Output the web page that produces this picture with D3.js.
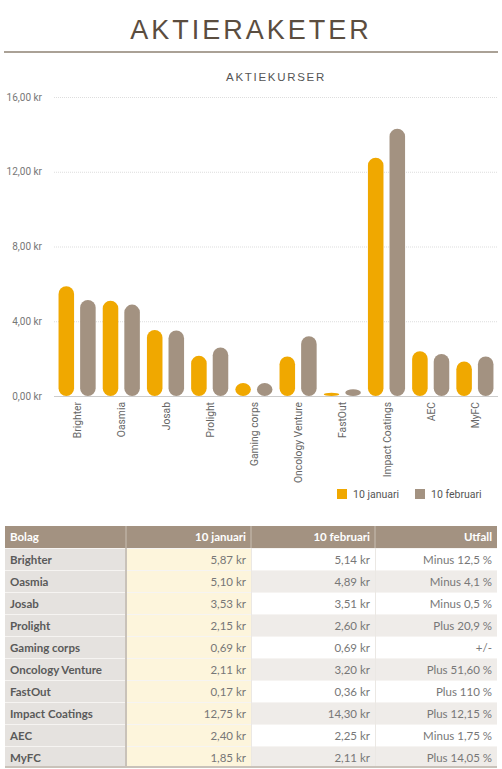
<!DOCTYPE html>
<html>
<head>
<meta charset="utf-8">
<script src="https://cdn.jsdelivr.net/npm/d3@7"></script>
<style>
  html, body { margin: 0; padding: 0; background: #fff; }
  svg { display: block; }
</style>
</head>
<body>
<div id="chart"></div>
<script>
// Data
const companies = ["Brighter", "Oasmia", "Josab", "Prolight", "Gaming corps", "Oncology Venture", "FastOut", "Impact Coatings", "AEC", "MyFC"];
const jan = [5.87, 5.10, 3.53, 2.15, 0.69, 2.11, 0.17, 12.75, 2.40, 1.85];
const feb = [5.14, 4.89, 3.51, 2.60, 0.69, 3.20, 0.36, 14.30, 2.25, 2.11];
const utfall = ["Minus 12,5 %", "Minus 4,1 %", "Minus 0,5 %", "Plus 20,9 %", "+/-", "Plus 51,60 %", "Plus 110 %", "Plus 12,15 %", "Minus 1,75 %", "Plus 14,05 %"];
const seriesNames = ["10 januari", "10 februari"];
const yTicks = [0, 4, 8, 12, 16];
const tableHeaders = ["Bolag", "10 januari", "10 februari", "Utfall"];

const W = 502, H = 769;
const colors = ["#f0a800", "#a39281"];

const sv = d3.formatLocale({ decimal: ",", thousands: " ", grouping: [3], currency: ["", " kr"] });
const kr = v => sv.format(".2f")(v) + " kr";

const svg = d3.select("#chart").append("svg")
    .attr("width", W)
    .attr("height", H);

// Title
svg.append("text")
    .attr("x", W / 2)
    .attr("y", 39)
    .attr("text-anchor", "middle")
    .attr("font-family", "Liberation Sans, Arial, sans-serif")
    .attr("font-size", 27)
    .attr("letter-spacing", 3)
    .attr("fill", "#5b4d3f")
    .text("AKTIERAKETER");

svg.append("line")
    .attr("x1", 4).attr("x2", 498)
    .attr("y1", 52).attr("y2", 52)
    .attr("stroke", "#aaa196")
    .attr("stroke-width", 2);

svg.append("text")
    .attr("x", 276)
    .attr("y", 81)
    .attr("text-anchor", "middle")
    .attr("font-family", "Liberation Sans, Arial, sans-serif")
    .attr("font-size", 11.5)
    .attr("letter-spacing", 1.7)
    .attr("fill", "#555")
    .text("AKTIEKURSER");

// Scales
const y = d3.scaleLinear().domain([0, 16]).range([396, 97]);
const x0 = d3.scaleBand().domain(companies).range([55, 497]).paddingInner(0.16).paddingOuter(0.08);
const x1 = d3.scaleBand().domain([0, 1]).range([0, x0.bandwidth()]).paddingInner(0.28);

// Grid
const grid = svg.append("g")
    .attr("transform", "translate(54,0)")
    .call(d3.axisLeft(y).tickValues(yTicks).tickSize(-444).tickFormat(""));
grid.select(".domain").remove();
grid.selectAll(".tick line")
    .attr("stroke", d => d === 0 ? "#ccc" : "#ddd")
    .attr("stroke-dasharray", d => d === 0 ? null : "1,1");

// Y labels
const yAxis = svg.append("g")
    .attr("transform", "translate(42,0)")
    .call(d3.axisLeft(y).tickValues(yTicks).tickSize(0).tickPadding(0).tickFormat(kr));
yAxis.select(".domain").remove();
yAxis.selectAll("text")
    .attr("font-family", "Roboto, Arial, sans-serif")
    .attr("font-size", 10)
    .attr("fill", "#777");

// Bars
const groups = svg.append("g")
    .selectAll("g")
    .data(companies)
    .join("g")
    .attr("transform", d => `translate(${x0(d)},0)`);

groups.selectAll("rect")
    .data((d, i) => [jan[i], feb[i]])
    .join("rect")
    .attr("x", (d, j) => x1(j))
    .attr("y", d => y(d))
    .attr("width", x1.bandwidth())
    .attr("height", d => y(0) - y(d))
    .attr("rx", x1.bandwidth() / 2)
    .attr("fill", (d, j) => colors[j]);

// X labels
const xAxis = svg.append("g")
    .attr("transform", "translate(0,396)")
    .call(d3.axisBottom(x0).tickSize(0).tickPadding(0));
xAxis.select(".domain").remove();
xAxis.selectAll("text")
    .attr("transform", "translate(4,6) rotate(-90)")
    .attr("text-anchor", "end")
    .attr("dy", 0)
    .attr("x", 0).attr("y", 0)
    .attr("font-family", "Roboto, Arial, sans-serif")
    .attr("font-size", 10.3)
    .attr("fill", "#666");

// Legend
const legend = svg.append("g")
    .selectAll("g")
    .data(seriesNames)
    .join("g")
    .attr("transform", (d, i) => `translate(${337 + i * 78},489)`);
legend.append("rect")
    .attr("width", 10).attr("height", 10)
    .attr("fill", (d, i) => colors[i]);
legend.append("text")
    .attr("x", 16).attr("y", 9)
    .attr("font-family", "Roboto, Arial, sans-serif")
    .attr("font-size", 10.5)
    .attr("fill", "#555")
    .text(d => d);

// Table
const colX = [5, 126, 251, 375, 497];
const tableTop = 526, headH = 22, rowH = 22;
const tfont = "Lato, 'Open Sans', sans-serif";

const table = svg.append("g");
table.append("rect")
    .attr("x", colX[0]).attr("y", tableTop)
    .attr("width", colX[4] - colX[0]).attr("height", headH)
    .attr("fill", "#a39281");

table.selectAll("line.hsep")
    .data([1, 2, 3])
    .join("line")
    .attr("class", "hsep")
    .attr("x1", i => colX[i]).attr("x2", i => colX[i])
    .attr("y1", tableTop).attr("y2", tableTop + headH)
    .attr("stroke", "#c9bfb3").attr("stroke-width", 1);

table.selectAll("text.head")
    .data(tableHeaders)
    .join("text")
    .attr("class", "head")
    .attr("x", (d, i) => i === 0 ? colX[0] + 5 : colX[i + 1] - 5)
    .attr("y", tableTop + 15)
    .attr("text-anchor", (d, i) => i === 0 ? "start" : "end")
    .attr("font-family", tfont)
    .attr("font-weight", "bold")
    .attr("font-size", 11.5)
    .attr("fill", "#fff")
    .text(d => d);

const rows = table.selectAll("g.row")
    .data(companies)
    .join("g")
    .attr("class", "row")
    .attr("transform", (d, i) => `translate(0,${tableTop + headH + i * rowH})`);

const cellBg = (i, c) => c === 0 ? "#e5e2df" : c === 1 ? "#fdf5dc" : (i % 2 ? "#efece9" : "#fff");

rows.each(function (d, i) {
    const r = d3.select(this);
    const cells = [d, kr(jan[i]), kr(feb[i]), utfall[i]];
    r.selectAll("rect")
        .data(cells)
        .join("rect")
        .attr("x", (c, k) => colX[k])
        .attr("width", (c, k) => colX[k + 1] - colX[k])
        .attr("height", rowH)
        .attr("fill", (c, k) => cellBg(i, k));
    r.append("line")
        .attr("x1", colX[0]).attr("x2", colX[4])
        .attr("y1", 0.5).attr("y2", 0.5)
        .attr("stroke", "#f6f4f2");
    r.selectAll("text")
        .data(cells)
        .join("text")
        .attr("x", (c, k) => k === 0 ? colX[0] + 5 : colX[k + 1] - 5)
        .attr("y", 15.5)
        .attr("text-anchor", (c, k) => k === 0 ? "start" : "end")
        .attr("font-family", tfont)
        .attr("font-weight", (c, k) => k === 0 ? "bold" : "normal")
        .attr("font-size", 11.5)
        .attr("fill", (c, k) => k === 0 ? "#5a5a5a" : "#777")
        .text(c => c);
});

// column dividers
table.append("line")
    .attr("x1", colX[1]).attr("x2", colX[1])
    .attr("y1", tableTop + headH).attr("y2", tableTop + headH + rowH * companies.length)
    .attr("stroke", "#c9c2b9").attr("stroke-width", 2);
table.selectAll("line.vsep")
    .data([2, 3])
    .join("line")
    .attr("class", "vsep")
    .attr("x1", i => colX[i] + 0.5).attr("x2", i => colX[i] + 0.5)
    .attr("y1", tableTop + headH).attr("y2", tableTop + headH + rowH * companies.length)
    .attr("stroke", "#ebe8e4").attr("stroke-width", 1);
table.append("line")
    .attr("x1", colX[0]).attr("x2", colX[4])
    .attr("y1", tableTop + headH + rowH * companies.length - 1)
    .attr("y2", tableTop + headH + rowH * companies.length - 1)
    .attr("stroke", "#c9c2b9").attr("stroke-width", 2);
</script>
</body>
</html>
